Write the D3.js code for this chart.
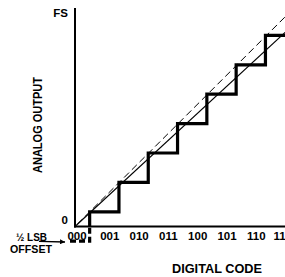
<!DOCTYPE html>
<html>
<head>
<meta charset="utf-8">
<script src="https://cdn.jsdelivr.net/npm/d3@7"></script>
<style>
  html, body { margin: 0; padding: 0; background: #fff; }
  svg { display: block; }
  text { font-family: "Liberation Sans Narrow", "Liberation Sans", Arial, sans-serif; font-weight: bold; fill: #000; }
</style>
</head>
<body>
<svg id="chart" width="285" height="277"></svg>
<script>
// ---- data ----
const codeLabels   = ["000", "001", "010", "011", "100", "101", "110", "11"];
const codeValues   = [0, 1, 2, 3, 4, 5, 6, 7];
const transitions  = [0.5, 1.5, 2.5, 3.5, 4.5, 5.5, 6.5];          // code where output steps up
const outputLevels = [-0.5, 0.5, 1.5, 2.5, 3.5, 4.5, 5.5, 6.5];    // analog output (LSB) after each step
const yTickValues  = [0, 7.28];
const yTickLabels  = ["0", "FS"];
const idealLine    = [[0.08, 0.08], [7.17, 7.13]];                 // dashed
const actualLine   = [[0.0, 0.0], [7.17, 6.6]];                    // solid thin
const offsetStart  = -0.17;                                        // start of dashed 1/2 LSB offset segment
const codeEnd      = 7.2;

// ---- layout ----
const svg = d3.select("#chart");
const x = d3.scaleLinear().domain([0, 7]).range([75, 280.1]);
const y = d3.scaleLinear().domain([0, 7]).range([226.5, 20.7]);
const line = d3.line().x(d => x(d[0])).y(d => y(d[1]));

// axes lines
svg.append("line").attr("x1", x(0)).attr("x2", x(0)).attr("y1", 8).attr("y2", y(0) + 1)
  .attr("stroke", "#000").attr("stroke-width", 2);
svg.append("line").attr("x1", x(0) - 1).attr("x2", 285).attr("y1", y(0)).attr("y2", y(0))
  .attr("stroke", "#000").attr("stroke-width", 2);

// x tick labels
const xAxis = d3.axisBottom(x).tickValues(codeValues)
  .tickFormat((d, i) => codeLabels[i]).tickSize(0);
const gx = svg.append("g").attr("transform", `translate(0,${y(0)})`).call(xAxis);
gx.select(".domain").remove();
gx.selectAll("text")
  .attr("y", 13.5).attr("dy", 0)
  .attr("dx", d => d === 0 ? 1.5 : (d === 7 ? -1 : 5))
  .style("font-size", "11.5px")
  .style("font-family", '"Liberation Sans", Arial, sans-serif')
  .attr("font-weight", "bold");
gx.attr("font-family", null).attr("font-size", null);

// y tick labels
const yAxis = d3.axisLeft(y).tickValues(yTickValues)
  .tickFormat((d, i) => yTickLabels[i]).tickSize(0).tickPadding(7);
const gy = svg.append("g").attr("transform", `translate(${x(0)},0)`).call(yAxis);
gy.select(".domain").remove();
gy.selectAll("text")
  .attr("dy", (d, i) => i === 0 ? "-0.25em" : "0.36em")
  .style("font-size", "11.5px")
  .style("font-family", '"Liberation Sans", Arial, sans-serif');
gy.attr("font-family", null).attr("font-size", null);

// ideal (dashed) and actual (solid) transfer lines
svg.append("path").attr("d", line(idealLine)).attr("fill", "none")
  .attr("stroke", "#000").attr("stroke-width", 1).attr("stroke-dasharray", "7,4");
svg.append("path").attr("d", line(actualLine)).attr("fill", "none")
  .attr("stroke", "#000").attr("stroke-width", 1.1);

// staircase
const stairPts = [[transitions[0], 0]];
transitions.forEach((t, i) => {
  stairPts.push([t, outputLevels[i + 1]]);
  const next = i + 1 < transitions.length ? transitions[i + 1] : codeEnd;
  stairPts.push([next, outputLevels[i + 1]]);
});
svg.append("path").attr("d", line(stairPts)).attr("fill", "none")
  .attr("stroke", "#000").attr("stroke-width", 3.2).attr("stroke-linejoin", "miter");

// dashed 1/2 LSB offset segment
const offsetPts = [[offsetStart, outputLevels[0]], [transitions[0], outputLevels[0]], [transitions[0], 0]];
svg.append("path").attr("d", line(offsetPts)).attr("fill", "none")
  .attr("stroke", "#000").attr("stroke-width", 3.2).attr("stroke-dasharray", "6,3");

// arrow
svg.append("defs").append("marker").attr("id", "arr")
  .attr("viewBox", "0 0 10 10").attr("refX", 10).attr("refY", 5)
  .attr("markerWidth", 9).attr("markerHeight", 5).attr("markerUnits", "userSpaceOnUse")
  .attr("orient", "auto")
  .append("path").attr("d", "M0,0 L10,5 L0,10 Z").attr("fill", "#000");
svg.append("line").attr("x1", 39).attr("y1", 241.3).attr("x2", x(offsetStart) - 5).attr("y2", 242)
  .attr("stroke", "#000").attr("stroke-width", 1.3).attr("marker-end", "url(#arr)");

// texts
svg.append("text").attr("x", 16).attr("y", 240.5).style("font-size", "11.5px")
  .attr("textLength", 31).attr("lengthAdjust", "spacingAndGlyphs").text("½ LSB");
svg.append("text").attr("x", 10).attr("y", 252.5).style("font-size", "11.5px")
  .attr("textLength", 42).attr("lengthAdjust", "spacingAndGlyphs").text("OFFSET");
svg.append("text").attr("x", 172).attr("y", 273).style("font-size", "12px")
  .attr("textLength", 90).attr("lengthAdjust", "spacingAndGlyphs").text("DIGITAL CODE");
svg.append("text").attr("transform", "translate(41.5,173) rotate(-90)")
  .style("font-size", "13.5px")
  .attr("textLength", 96).attr("lengthAdjust", "spacingAndGlyphs").text("ANALOG OUTPUT");
</script>
</body>
</html>
